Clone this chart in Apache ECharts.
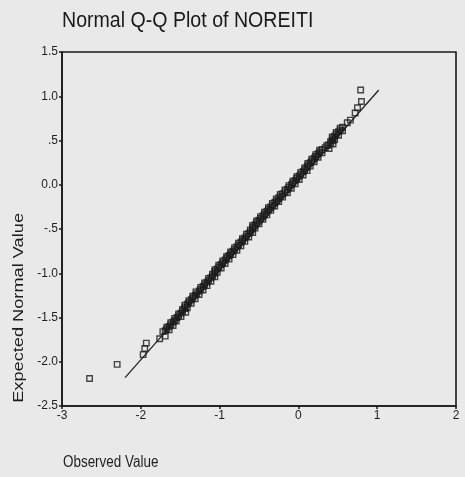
<!DOCTYPE html>
<html>
<head>
<meta charset="utf-8">
<script src="https://cdn.jsdelivr.net/npm/echarts@6/dist/echarts.min.js"></script>
<style>
html,body{margin:0;padding:0;background:#e9e9e9;}
#c{width:465px;height:477px;}
</style>
</head>
<body>
<div id="c"></div>
<script>
var observed = [
 -2.65,-2.30,-1.97,-1.95,-1.93,-1.76,-1.69,
 -1.72,-1.64,-1.67,-1.59,-1.62,-1.55,-1.57,-1.49,-1.52,-1.43,-1.47,-1.41,-1.44,-1.36,
 -1.39,-1.31,-1.34,-1.26,-1.30,-1.21,-1.24,-1.16,-1.19,-1.11,-1.14,-1.06,-1.09,-1.03,
 -1.06,-0.98,-1.01,-0.93,-0.96,-0.88,-0.91,-0.83,-0.86,-0.78,-0.81,-0.73,-0.76,-0.68,
 -0.71,-0.63,-0.66,-0.58,-0.61,-0.55,-0.58,-0.50,-0.53,-0.45,-0.48,-0.40,-0.43,-0.35,
 -0.38,-0.30,-0.33,-0.25,-0.28,-0.20,-0.23,-0.14,-0.17,-0.09,-0.12,-0.04,-0.07,0.01,
 -0.02,0.06,0.03,0.11,0.08,0.15,0.12,0.20,0.17,0.25,0.22,0.30,0.27,0.39,0.36,0.44,
 0.41,0.46,0.43,0.51,0.48,0.56,0.53,
 0.62,0.66,0.72,0.75,0.80,0.79,
 -1.69,-1.67,-1.64,-1.62,-1.59,-1.57,-1.54,-1.52,-1.49,-1.47,-1.44,-1.44,-1.41,-1.39,
 -1.36,-1.34,-1.31,-1.29,-1.26,-1.24,-1.21,-1.19,-1.16,-1.14,-1.11,-1.09,-1.06,-1.06,
 -1.03,-1.01,-0.98,-0.96,-0.93,-0.91,-0.88,-0.86,-0.83,-0.81,-0.78,-0.76,-0.73,-0.71,
 -0.68,-0.66,-0.63,-0.61,-0.58,-0.58,-0.55,-0.53,-0.50,-0.48,-0.45,-0.43,-0.40,-0.38,
 -0.35,-0.33,-0.30,-0.28,-0.25,-0.23,-0.20,-0.17,-0.14,-0.12,-0.09,-0.07,-0.04,-0.02,
 0.01,0.03,0.06,0.08,0.11,0.12,0.15,0.17,0.20,0.22,0.25,0.27,0.30,0.34,0.38,0.41,
 0.44,0.43,0.46,0.48,0.51,0.53,0.56
];
var expected = [
 -2.19,-2.03,-1.92,-1.85,-1.79,-1.74,-1.71,
 -1.66,-1.64,-1.61,-1.59,-1.56,-1.54,-1.51,-1.49,-1.46,-1.44,-1.41,-1.39,-1.36,-1.34,
 -1.31,-1.29,-1.26,-1.24,-1.21,-1.19,-1.16,-1.14,-1.11,-1.09,-1.06,-1.04,-1.01,-0.99,
 -0.96,-0.94,-0.91,-0.89,-0.86,-0.84,-0.81,-0.79,-0.76,-0.74,-0.71,-0.69,-0.66,-0.64,
 -0.61,-0.59,-0.56,-0.54,-0.51,-0.49,-0.46,-0.44,-0.41,-0.39,-0.36,-0.34,-0.31,-0.29,
 -0.26,-0.24,-0.21,-0.19,-0.16,-0.14,-0.11,-0.09,-0.06,-0.04,-0.01,0.01,0.04,0.06,
 0.09,0.11,0.14,0.16,0.19,0.21,0.24,0.26,0.29,0.31,0.34,0.36,0.39,0.41,0.44,0.46,
 0.49,0.51,0.54,0.56,0.59,0.61,0.64,
 0.70,0.73,0.81,0.87,0.94,1.07,
 -1.65,-1.63,-1.60,-1.58,-1.55,-1.53,-1.50,-1.48,-1.45,-1.43,-1.40,-1.38,-1.35,-1.33,
 -1.30,-1.28,-1.25,-1.23,-1.20,-1.18,-1.15,-1.13,-1.10,-1.08,-1.05,-1.03,-1.00,-0.98,
 -0.95,-0.93,-0.90,-0.88,-0.85,-0.83,-0.80,-0.78,-0.75,-0.73,-0.70,-0.68,-0.65,-0.63,
 -0.60,-0.58,-0.55,-0.53,-0.50,-0.48,-0.45,-0.43,-0.40,-0.38,-0.35,-0.33,-0.30,-0.28,
 -0.25,-0.23,-0.20,-0.18,-0.15,-0.13,-0.10,-0.08,-0.05,-0.03,0.00,0.02,0.05,0.07,
 0.10,0.12,0.15,0.17,0.20,0.22,0.25,0.27,0.30,0.32,0.35,0.37,0.40,0.42,0.45,0.47,
 0.50,0.52,0.55,0.57,0.60,0.62,0.65
];
// Reference line endpoints
var lineX = [-2.20, 1.02];
var lineY = [-2.18, 1.07];
// Tick labels
var yTickValues = [1.5, 1.0, 0.5, 0.0, -0.5, -1.0, -1.5, -2.0, -2.5];
var yTickLabels = ["1.5", "1.0", ".5", "0.0", "-.5", "-1.0", "-1.5", "-2.0", "-2.5"];
var xTickValues = [-3, -2, -1, 0, 1, 2];
var xTickLabels = ["-3", "-2", "-1", "0", "1", "2"];

var titleText = "Normal Q-Q Plot of NOREITI";
var yName = "Expected Normal Value";
var xName = "Observed Value";

var pts = observed.map(function (x, i) { return [x, expected[i]]; });
var linePts = lineX.map(function (x, i) { return [x, lineY[i]]; });

function lookup(vals, labels, v) {
  for (var i = 0; i < vals.length; i++) if (Math.abs(vals[i] - v) < 1e-6) return labels[i];
  return '';
}

var chart = echarts.init(document.getElementById('c'), null, {renderer: 'canvas'});
var font = 'Liberation Sans, Arial, sans-serif';
chart.setOption({
  backgroundColor: '#e9e9e9',
  animation: false,
  grid: {left: 62, right: 9, top: 52, bottom: 71, show: true, borderColor: '#1a1a1a', borderWidth: 1.6, backgroundColor: 'transparent'},
  xAxis: {
    type: 'value', min: -3, max: 2, interval: 1,
    axisLine: {show: true, onZero: false, lineStyle: {color: '#1a1a1a', width: 1.6}},
    axisTick: {show: true, length: 3, lineStyle: {color: '#1a1a1a', width: 1.5}},
    axisLabel: {fontFamily: font, fontSize: 12, color: '#1e1e1e', margin: 4,
      formatter: function (v) { return lookup(xTickValues, xTickLabels, v); }},
    splitLine: {show: false}
  },
  yAxis: {
    type: 'value', min: -2.5, max: 1.5, interval: 0.5,
    axisLine: {show: true, onZero: false, lineStyle: {color: '#1a1a1a', width: 1.6}},
    axisTick: {show: true, length: 3, lineStyle: {color: '#1a1a1a', width: 1.5}},
    axisLabel: {fontFamily: font, fontSize: 12, color: '#1e1e1e', margin: 4,
      formatter: function (v) { return lookup(yTickValues, yTickLabels, v); }},
    splitLine: {show: false}
  },
  graphic: [
    {type: 'text', left: 62, top: 10, scaleX: 0.89,
     style: {text: titleText, fontFamily: font, fontSize: 22, fill: '#1a1a1a'}},
    {type: 'text', left: 12, top: 213, rotation: Math.PI / 2, scaleX: 1.3,
     style: {text: yName, fontFamily: font, fontSize: 14, fill: '#1e1e1e'}},
    {type: 'text', left: 63, top: 455, scaleX: 0.84,
     style: {text: xName, fontFamily: font, fontSize: 16, fill: '#1e1e1e'}}
  ],
  series: [
    {type: 'line', data: linePts, symbol: 'none', lineStyle: {color: '#222', width: 1.3}, z: 2},
    {type: 'scatter', data: pts, symbol: 'rect', symbolSize: 5.5,
     itemStyle: {color: 'rgba(0,0,0,0)', borderColor: '#1a1a1a', borderWidth: 1.4}, z: 3}
  ]
});
</script>
</body>
</html>
